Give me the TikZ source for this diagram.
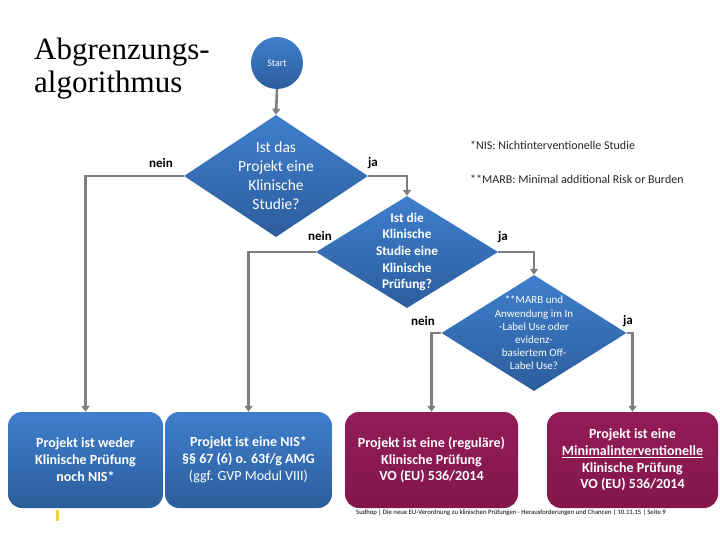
\documentclass[tikz,border=0pt]{standalone}
\usepackage{fontspec}
\setmainfont{Carlito}
\newfontfamily\titlefont{Liberation Serif}
\usetikzlibrary{shapes.geometric,arrows.meta}

\definecolor{bluetop}{HTML}{3F7FCD}
\definecolor{bluebot}{HTML}{2C5D9C}
\definecolor{purptop}{HTML}{931C58}
\definecolor{purpbot}{HTML}{82174C}
\definecolor{arrowgray}{HTML}{7F7F7F}
\definecolor{markyellow}{HTML}{EFD23A}

\begin{document}
\begin{tikzpicture}[x=1pt,y=-1pt,
  dia/.style={diamond, inner sep=0pt, draw=none, top color=bluetop, bottom color=bluebot},
  dtext/.style={text=white, align=center, inner sep=0pt},
  startnode/.style={circle, minimum size=52pt, inner sep=0pt, top color=bluetop, bottom color=bluebot, text=white, font=\fontsize{10}{12}\selectfont},
  bluebox/.style={rounded corners=14pt, minimum height=96pt, inner sep=0pt, top color=bluetop, bottom color=bluebot, text=white, align=center, font=\bfseries\fontsize{14}{17}\selectfont},
  purpbox/.style={rounded corners=14pt, minimum height=96pt, inner sep=0pt, top color=purptop, bottom color=purpbot, text=white, align=center, font=\bfseries\fontsize{14}{16.7}\selectfont},
  conn/.style={draw=arrowgray, line width=2.6pt, -{Triangle[width=8pt,length=6pt]}},
  lbl/.style={font=\bfseries\fontsize{13}{14}\selectfont, inner sep=0pt},
  note/.style={font=\fontsize{12}{13}\selectfont, anchor=west, inner sep=0pt, text=black!85}
]
\path[use as bounding box] (0,0) rectangle (720,540);

% title
\node[anchor=base west, align=left, inner sep=0pt, font=\titlefont\fontsize{31}{33}\selectfont] (title) at (34,93) {Abgrenzungs-\\algorithmus};

% start
\node[startnode] (start) at (277,63) {Start};

% diamonds
\node[dia, minimum width=184pt, minimum height=122pt] (d1) at (276,176) {};
\node[dtext, font=\fontsize{15.5}{19}\selectfont] (d1t) at (d1.center) {Ist das\\Projekt eine\\Klinische\\Studie?};

\node[dia, minimum width=182pt, minimum height=112pt] (d2) at (407,252) {};
\node[dtext, font=\bfseries\fontsize{13.3}{16.7}\selectfont] (d2t) at (d2.center) {Ist die\\Klinische\\Studie eine\\Klinische\\Prüfung?};

\node[dia, minimum width=185pt, minimum height=116pt] (d3) at (534,333) {};
\node[dtext, font=\fontsize{11}{13.2}\selectfont] (d3t) at (d3.center) {**MARB und\\Anwendung im In\\-Label Use oder\\evidenz-\\basiertem Off-\\Label Use?};

% boxes
\node[bluebox, minimum width=155pt] (b1) at (85.5,460) {Projekt ist weder\\Klinische Prüfung\\noch NIS*};
\node[bluebox, minimum width=167pt] (b2) at (248.5,460) {Projekt ist eine NIS*\\§§ 67 (6) o. 63f/g AMG\\\mdseries(ggf. GVP Modul VIII)};
\node[purpbox, minimum width=173pt] (b3) at (431.5,460) {Projekt ist eine (reguläre)\\Klinische Prüfung\\VO (EU) 536/2014};
\node[purpbox, minimum width=171pt] (b4) at (632.5,460) {Projekt ist eine\\\underline{Minimalinterventionelle}\\Klinische Prüfung\\VO (EU) 536/2014};

% connectors
\draw[conn] (start.south) -- (d1.north);
\draw[conn] (d1.west) -| (b1.north);
\draw[conn] (d1.east) -| (d2.north);
\draw[conn] (d2.west) -| (b2.north);
\draw[conn] (d2.east) -| (d3.north);
\draw[conn] (d3.west) -| (b3.north);
\draw[conn] (d3.east) -| (b4.north);

% labels
\node[lbl] (l1) at (161,163) {nein};
\node[lbl] (l2) at (373,163) {ja};
\node[lbl] (l3) at (320,236) {nein};
\node[lbl] (l4) at (503,237) {ja};
\node[lbl] (l5) at (423,321) {nein};
\node[lbl] (l6) at (628,321) {ja};

% notes
\node[note] (n1) at (470,145) {*NIS: Nichtinterventionelle Studie};
\node[note] (n2) at (470,179) {**MARB: Minimal additional Risk or Burden};

% footer
\node[anchor=west, inner sep=0pt, font=\fontsize{6.7}{7}\selectfont] (foot) at (356,513) {Sudhop | Die neue EU-Verordnung zu klinischen Prüfungen - Herausforderungen und Chancen | 10.11.15 | Seite 9};

% yellow mark
\fill[markyellow] (56,510) rectangle (59,521);
\end{tikzpicture}
\end{document}
